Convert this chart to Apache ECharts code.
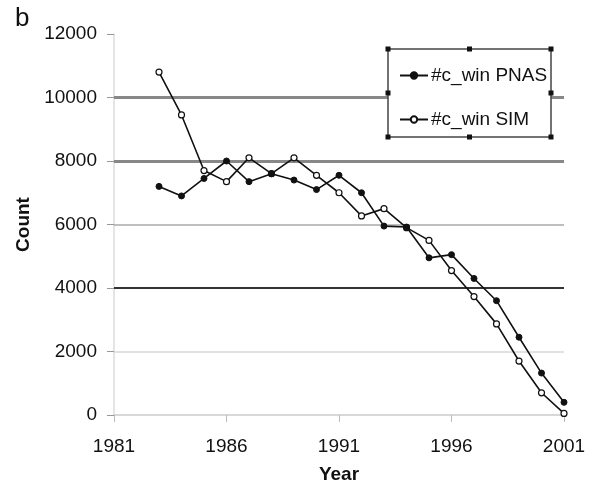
<!DOCTYPE html>
<html>
<head>
<meta charset="utf-8">
<script src="https://cdn.jsdelivr.net/npm/echarts@6/dist/echarts.min.js"></script>
<style>
  html, body { margin: 0; padding: 0; background: #fff; }
  #main { width: 593px; height: 493px; }
</style>
</head>
<body>
<div id="main"></div>
<script>
// years on the x axis, 1981 - 2001
var years = ['1981', '1982', '1983', '1984', '1985', '1986', '1987', '1988', '1989', '1990', '1991',
             '1992', '1993', '1994', '1995', '1996', '1997', '1998', '1999', '2000', '2001'];
// #c_win PNAS (filled dots)
var pnas = [null, null, 7200, 6900, 7450, 8000, 7350, 7600, 7400, 7100, 7550,
            7000, 5950, 5920, 4950, 5050, 4300, 3600, 2450, 1320, 400];
// #c_win SIM (open dots)
var sim = [null, null, 10800, 9450, 7700, 7350, 8100, 7600, 8100, 7550, 7000,
           6270, 6500, 5900, 5500, 4550, 3730, 2870, 1700, 700, 50];
// horizontal gridlines
var gridValues = [2000, 4000, 6000, 8000, 10000];

var font = 'Liberation Sans, Arial, sans-serif';
var chart = echarts.init(document.getElementById('main'));

// gridline look (scanned figure: some lines heavy, some faint)
var gridStyles = {
    2000: { color: '#d8d8d8', width: 1.5 },
    4000: { color: '#333', width: 1.8 },
    6000: { color: '#aaa', width: 1.5 },
    8000: { color: '#888', width: 3 },
    10000: { color: '#888', width: 3 }
};

// legend box with selection handles
var box = { x: 388, y: 49, w: 163, h: 88 };
var handles = [];
[[0, 0], [0.5, 0], [1, 0], [0, 0.5], [1, 0.5], [0, 1], [0.5, 1], [1, 1]].forEach(function (p) {
    handles.push({
        type: 'rect',
        shape: { x: box.x + p[0] * box.w - 2.5, y: box.y + p[1] * box.h - 2.5, width: 5, height: 5 },
        style: { fill: '#111' },
        z: 10
    });
});

chart.setOption({
    animation: false,
    backgroundColor: '#fff',
    grid: { left: 114, right: 29, top: 34, bottom: 78 },
    graphic: [
        {
            type: 'text', left: 15, top: 6,
            style: { text: 'b', font: '26px ' + font, fill: '#111' }
        },
        {
            type: 'rect',
            shape: { x: box.x, y: box.y, width: box.w, height: box.h },
            style: { fill: '#fff', stroke: '#444', lineWidth: 1.5 },
            z: 9
        }
    ].concat(handles),
    legend: {
        orient: 'vertical',
        left: 394, top: 61,
        itemGap: 25,
        itemWidth: 28, itemHeight: 8,
        z: 11,
        textStyle: { fontFamily: font, fontSize: 19, color: '#111', padding: [0, 0, 0, -2] },
        data: ['#c_win PNAS', '#c_win SIM']
    },
    xAxis: {
        type: 'category',
        data: years,
        boundaryGap: false,
        axisLine: { lineStyle: { color: '#ccc', width: 1.5 } },
        axisTick: { interval: 4, length: 7, lineStyle: { color: '#bbb' } },
        axisLabel: { interval: 4, margin: 22, fontFamily: font, fontSize: 19, color: '#111' },
        splitLine: { show: false },
        name: 'Year',
        nameLocation: 'middle',
        nameGap: 50,
        nameTextStyle: { fontFamily: font, fontSize: 19, fontWeight: 'bold', color: '#111' }
    },
    yAxis: {
        type: 'value',
        min: 0, max: 12000, interval: 2000,
        axisLine: { show: true, lineStyle: { color: '#ddd', width: 1.5 } },
        axisTick: { show: true, length: 7, lineStyle: { color: '#999' } },
        axisLabel: {
            margin: 17, fontFamily: font, fontSize: 19, color: '#111',
            formatter: function (v) { return String(v); }
        },
        splitLine: { show: false },
        name: 'Count',
        nameLocation: 'middle',
        nameGap: 78,
        nameTextStyle: { fontFamily: font, fontSize: 19, fontWeight: 'bold', color: '#111' }
    },
    series: [
        {
            name: '#c_win PNAS',
            type: 'line',
            data: pnas,
            z: 5,
            symbol: 'circle', symbolSize: 6,
            itemStyle: { color: '#111', borderColor: '#111', borderWidth: 1 },
            lineStyle: { color: '#111', width: 1.6 },
            markLine: {
                silent: true, symbol: 'none', z: 1,
                label: { show: false },
                data: gridValues.map(function (v) {
                    return { yAxis: v, lineStyle: { type: 'solid', color: gridStyles[v].color, width: gridStyles[v].width } };
                })
            }
        },
        {
            name: '#c_win SIM',
            type: 'line',
            data: sim,
            z: 4,
            symbol: 'circle', symbolSize: 6,
            itemStyle: { color: '#fff', borderColor: '#111', borderWidth: 1.2 },
            lineStyle: { color: '#111', width: 1.6 }
        }
    ]
});
</script>
</body>
</html>
